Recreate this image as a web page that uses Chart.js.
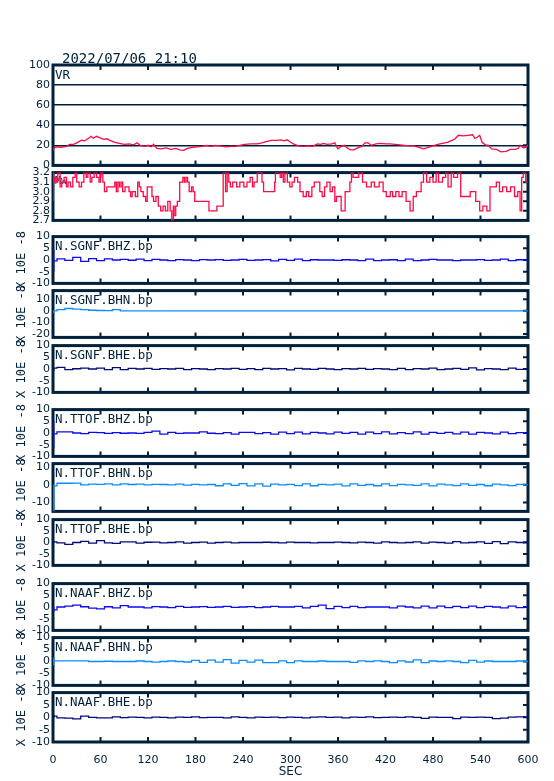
<!DOCTYPE html>
<html>
<head>
<meta charset="utf-8">
<script src="https://cdn.jsdelivr.net/npm/chart.js@4.4.0/dist/chart.umd.min.js"></script>
<style>
  html, body { margin: 0; padding: 0; background: #fff; }
  #wrap { position: relative; width: 554px; height: 781px; overflow: hidden; }
  #wrap canvas { position: absolute; left: 0; }
</style>
</head>
<body>
<div id="wrap"></div>
<script>
const dateTitle = '2022/07/06 21:10';
const secTicks = [0, 60, 120, 180, 240, 300, 360, 420, 480, 540, 600];

// variance reduction
const vrSec = [0, 2, 5, 10, 17, 21, 26, 30, 36, 40, 45, 48, 51, 55, 58, 64, 68, 72, 78, 84, 90, 96, 102, 106, 110, 116, 120, 124, 127, 131,
  137, 143, 149, 155, 160, 165, 170, 176, 182, 188, 194, 199, 205, 211, 218, 224, 230, 236, 242, 250, 258, 264, 270, 276, 282, 288, 292, 296, 300, 305,
  310, 316, 322, 328, 334, 338, 342, 346, 352, 356, 358, 360, 364, 368, 372, 376, 380, 385, 390, 394, 398, 402, 408, 414, 420, 426, 432, 438, 444, 450,
  456, 462, 468, 474, 480, 486, 492, 498, 504, 508, 512, 518, 524, 530, 533, 536, 539, 542, 546, 550, 554, 560, 566, 572, 578, 584, 588, 590, 594, 597, 600];
const vrVal = [15, 18, 18.5, 18, 19, 21, 21, 22.5, 25, 24.5, 27, 29, 27, 29, 28, 26, 26.5, 25, 23, 22, 21, 21.5, 20.5, 22.5, 20, 19, 20, 18.5, 21, 17,
  16.5, 17.5, 16, 17, 15.5, 15, 17, 18, 18.5, 19, 20, 19, 20, 19.5, 18.5, 19, 19, 20, 21, 21.5, 21.5, 22.5, 24, 25, 25, 25.5, 24.5, 25.5, 23, 21,
  19.5, 19, 19.5, 19, 21.5, 21, 22, 21, 21.5, 22.5, 19, 16.5, 19, 20, 17, 15.5, 15.5, 17.5, 19, 22.5, 22.5, 20, 21.5, 22, 21.5, 21.5, 21, 20.5, 20, 19.5,
  19.5, 18, 16.5, 18, 19.5, 21, 22, 23, 25, 26.5, 30, 29.5, 30, 30.5, 27, 28, 30, 23, 20.5, 20, 16.5, 16, 13.5, 14, 16, 16, 17, 20, 17.5, 18, 20];
const vrTicks = [0, 20, 40, 60, 80, 100];

// magnitude (step trace)
const mwSec = [0, 1, 2, 4, 6, 9, 11, 14, 17, 19, 22, 25, 28, 30, 33, 36, 39, 42, 44, 47, 49, 52, 55, 58, 60, 63, 65, 68, 78, 80,
  82, 84, 86, 88, 91, 96, 98, 100, 104, 107, 109, 111, 114, 117, 119, 125, 127, 130, 133, 136, 139, 142, 145, 148, 150, 152, 153, 155, 157, 160,
  164, 166, 168, 170, 172, 175, 177, 179, 197, 207, 215, 218, 220, 222, 224, 227, 232, 236, 241, 245, 249, 252, 254, 258, 264, 266, 280, 281, 287, 289,
  291, 293, 296, 299, 302, 305, 309, 312, 316, 320, 323, 327, 330, 337, 340, 343, 346, 350, 353, 356, 358, 364, 369, 375, 377, 379, 386, 391, 396, 402,
  406, 412, 417, 421, 426, 429, 433, 437, 441, 446, 451, 455, 459, 465, 468, 472, 476, 480, 484, 487, 492, 496, 499, 503, 506, 511, 515, 527, 534, 539,
  543, 548, 552, 560, 564, 568, 573, 578, 583, 587, 590, 592, 594, 597, 599, 600];
const mwVal = [2.9, 3.2, 3.1, 3.15, 3.1, 3.2, 3.05, 3.1, 3.15, 3.05, 3.1, 3.05, 3.15, 3.2, 3.1, 3.05, 3.1, 3.2, 3.15, 3.2, 3.1, 3.15, 3.2, 3.15, 3.1, 3.2, 3.1, 3.0, 3.05, 3.1,
  3.0, 3.1, 3.05, 3.1, 3.0, 3.05, 3.0, 2.95, 3.0, 2.95, 3.1, 3.05, 3.0, 2.95, 2.9, 3.05, 2.95, 2.9, 2.95, 2.85, 2.8, 2.85, 2.8, 2.9, 2.8, 2.7, 2.85, 2.75, 2.85, 2.9,
  3.1, 3.15, 3.1, 3.15, 3.1, 3.0, 3.05, 3.0, 2.9, 2.8, 2.85, 3.2, 3.0, 3.2, 3.1, 3.05, 3.1, 3.05, 3.1, 3.05, 3.1, 3.15, 3.05, 3.1, 3.2, 3.1, 3.0, 3.1, 3.2, 3.15,
  3.2, 3.1, 3.2, 3.1, 3.05, 3.1, 3.15, 3.1, 3.0, 2.95, 3.0, 2.95, 3.05, 3.1, 3.0, 2.95, 3.05, 3.1, 3.0, 3.05, 2.9, 2.95, 2.8, 3.0, 3.1, 3.2, 3.15, 3.2, 3.1, 3.05,
  3.1, 3.05, 3.1, 3.0, 2.95, 3.0, 2.95, 3.0, 2.95, 3.0, 2.9, 2.8, 2.95, 3.0, 3.1, 3.2, 3.1, 3.15, 3.1, 3.2, 3.1, 3.15, 3.2, 3.05, 3.2, 3.15, 3.2, 2.95, 3.0, 2.9,
  2.8, 2.85, 2.8, 3.05, 3.1, 3.0, 3.05, 3.0, 3.05, 2.95, 3.0, 2.8, 3.15, 3.2, 3.1, 3.1];
const mwTicks = [2.7, 2.8, 2.9, 3.0, 3.1, 3.2];

// band-passed waveforms, 10 s samples (x 10E-8)
const seisSec = [0, 10, 20, 30, 40, 50, 60, 70, 80, 90, 100, 110, 120, 130, 140, 150, 160, 170, 180, 190,
  200, 210, 220, 230, 240, 250, 260, 270, 280, 290, 300, 310, 320, 330, 340, 350, 360, 370, 380, 390,
  400, 410, 420, 430, 440, 450, 460, 470, 480, 490, 500, 510, 520, 530, 540, 550, 560, 570, 580, 590, 600];
const sgnfZ = [-0.4, 0.5, -0.2, 1.1, -0.6, 0.6, -0.3, 0.5, 0.0, 0.3, -0.1, 0.4, -0.3, 0.3, 0.0, -0.3, 0.2, 0.0, -0.3, 0.2,
  0.0, 0.2, -0.2, 0.0, 0.3, -0.2, 0.0, 0.2, -0.4, 0.3, -0.2, 0.4, -0.3, 0.1, 0.0, 0.0, -0.2, 0.1, 0.0, -0.3,
  0.4, -0.3, 0.0, 0.1, -0.3, 0.4, -0.3, 0.0, 0.3, 0.0, 0.0, -0.3, 0.0, 0.0, 0.2, -0.2, 0.0, 0.4, -0.3, 0.1, 0.0];
const sgnfN = [0.0, 1.0, 2.0, 1.5, 1.0, 0.5, 0.3, 0.2, 1.0, 0.0, 0, 0, 0, 0, 0, 0, 0, 0, 0, 0,
  0, 0, 0, 0, 0, 0, 0, 0, 0, 0, 0, 0, 0, 0, 0, 0, 0, 0, 0, 0,
  0, 0, 0, 0, 0, 0, 0, 0, 0, 0, 0, 0, 0, 0, 0, 0, 0, 0, 0, 0, 0];
const sgnfE = [0.4, 0.7, -0.3, 0.1, 0.4, 0.0, 0.4, -0.3, 0.6, -0.3, 0.3, 0.0, 0.3, -0.2, 0.2, 0.0, 0.3, -0.3, 0.2, 0.0,
  -0.3, 0.2, 0.0, 0.3, -0.2, 0.2, -0.3, 0.3, 0.0, 0.2, -0.4, 0.3, 0.0, -0.2, 0.3, 0.0, -0.3, 0.2, 0.0, 0.3,
  -0.2, 0.2, 0.0, -0.3, 0.3, -0.3, 0.2, 0.0, 0.4, -0.3, 0.0, 0.3, -0.2, 0.5, -0.4, 0.2, 0.0, -0.3, 0.4, -0.2, 0.1];
const ttofZ = [-0.4, 0.5, 0.5, 0.0, -0.3, 0.3, 0.2, -0.2, 0.2, -0.1, 0.0, -0.2, 0.3, 0.8, -0.5, 0.3, -0.2, 0.0, 0.0, 0.5,
  -0.1, -0.3, 0.2, -0.5, 0.3, 0.3, -0.3, 0.2, -0.5, 0.4, -0.3, 0.4, -0.4, 0.3, 0.0, -0.4, 0.4, -0.2, 0.3, -0.5,
  0.4, -0.3, 0.5, -0.4, 0.2, -0.3, 0.5, -0.5, 0.3, -0.2, 0.3, -0.4, 0.4, -0.5, 0.3, 0.0, -0.4, 0.4, -0.3, 0.2, 0.0];
const ttofN = [-0.6, 0.9, 0.9, 1.0, 0.0, 0.4, 0.3, 0.6, 0.0, 0.5, 0.2, 0.4, 0.0, 0.3, 0.2, 0.0, 0.4, -0.2, 0.3, 0.0,
  0.2, -0.5, 0.6, -0.3, 0.7, -0.6, 0.5, -0.7, 0.4, 0.0, 0.3, -0.4, 0.5, -0.5, 0.3, 0.0, 0.4, -0.6, 0.5, -0.3,
  0.2, -0.5, 0.6, -0.4, 0.3, 0.0, -0.3, 0.5, -0.6, 0.4, 0.0, -0.4, 0.5, -0.3, 0.2, -0.5, 0.4, 0.0, -0.4, 0.3, 0.0];
const ttofE = [0.3, -0.2, -0.8, 0.0, 0.5, -0.3, 0.8, -0.2, -0.4, 0.3, 0.3, -0.3, 0.1, 0.2, -0.2, 0.0, 0.3, -0.3, 0.0, 0.2,
  -0.3, 0.0, 0.2, -0.2, 0.0, 0.0, 0.0, 0.1, 0.0, -0.2, 0.2, 0.0, 0.0, -0.2, 0.0, 0.0, 0.2, 0.0, -0.2, 0.2,
  0.0, -0.3, 0.3, 0.0, -0.2, 0.0, 0.3, -0.3, 0.2, 0.0, -0.3, 0.4, -0.2, 0.0, 0.3, -0.4, 0.4, -0.5, 0.3, 0.0, 0.2];
const naafZ = [-1.2, 0.0, 0.4, 0.8, 0.1, -0.5, -0.8, 0.1, -0.4, 0.6, 0.0, 0.0, -0.4, 0.2, 0.0, -0.3, 0.3, -0.2, 0.0, 0.2,
  -0.2, 0.0, 0.3, -0.2, 0.0, 0.2, -0.3, 0.0, 0.3, 0.0, 0.0, 0.3, -0.4, 0.3, 0.8, -0.7, 0.3, -0.3, 0.3, -0.3,
  0.0, 0.0, 0.0, -0.4, 0.4, 0.0, -0.4, 0.4, -0.4, 0.4, -0.3, 0.3, -0.3, 0.4, -0.3, 0.3, 0.0, -0.4, 0.4, -0.3, 0.1];
const naafN = [0.3, 0.3, 0.3, 0.3, 0.3, 0.0, 0.0, 0.1, 0.0, 0.0, 0.0, 0.2, 0.0, -0.3, 0.0, 0.2, 0.0, -0.2, 0.5, -0.4,
  0.6, -0.3, 0.8, -0.7, 0.5, -0.3, 0.6, -0.5, -0.5, 0.3, -0.5, 0.3, 0.0, 0.0, 0.2, 0.0, 0.0, 0.0, -0.4, 0.3,
  0.0, 0.3, 0.0, -0.5, 0.3, -0.2, 0.7, -0.5, 0.2, 0.0, 0.3, 0.0, -0.5, 0.5, -0.3, 0.2, 0.0, 0.0, 0.0, 0.2, 0.0];
const naafE = [0.5, -0.2, -0.3, -0.6, 0.5, 0.0, -0.2, -0.2, 0.2, -0.1, 0.1, 0.0, -0.2, 0.1, 0.0, -0.2, 0.1, 0.0, 0.2, -0.1,
  0.0, 0.0, -0.2, 0.2, 0.0, -0.2, 0.1, 0.0, 0.1, -0.1, 0.1, 0.0, -0.2, 0.1, 0.2, 0.0, 0.1, -0.2, 0.1, 0.0,
  0.2, -0.1, 0.0, 0.1, 0.0, 0.2, 0.0, -0.4, 0.1, 0.0, 0.0, -0.5, 0.1, 0.0, 0.1, 0.0, -0.5, -0.3, 0.1, 0.2, 0.0];
const tenTicks = [-10, -5, 0, 5, 10];
const sgnfNTicks = [-20, -10, 0, 10];
const ttofNTicks = [-10, 0, 10];

const INK = '#00203c';
const RED = '#ff0a46';
const BHZ = '#0a0af0';
const BHN = '#0a8cff';
const BHE = '#000a78';

Chart.defaults.font.family = '"DejaVu Sans", sans-serif';
Chart.defaults.color = INK;

const panels = [
  {top: 65, bottom: 167, padTop: 26, label: 'VR', sec: vrSec, val: vrVal, min: 0, max: 100, ticks: vrTicks, color: RED, grid: true, heading: dateTitle},
  {top: 171, bottom: 222, label: 'Mw', labelSize: 10, sec: mwSec, val: mwVal, min: 2.7, max: 3.2, ticks: mwTicks, color: RED, stepped: 'after', dec: 1},
  {top: 235, bottom: 285, label: 'N.SGNF.BHZ.bp', sec: seisSec, val: sgnfZ, onset: [4.5, -5], min: -10, max: 10, ticks: tenTicks, color: BHZ},
  {top: 289, bottom: 339, label: 'N.SGNF.BHN.bp', sec: seisSec, val: sgnfN, onset: [0, -2], min: -23, max: 17.5, ticks: sgnfNTicks, color: BHN},
  {top: 344, bottom: 394, label: 'N.SGNF.BHE.bp', sec: seisSec, val: sgnfE, onset: [0.5, -0.8], min: -10, max: 10, ticks: tenTicks, color: BHE},
  {top: 408, bottom: 458, label: 'N.TTOF.BHZ.bp', sec: seisSec, val: ttofZ, onset: [5, -6.5], min: -10, max: 10, ticks: tenTicks, color: BHZ},
  {top: 462, bottom: 513, label: 'N.TTOF.BHN.bp', sec: seisSec, val: ttofN, onset: [0, -15], min: -15, max: 12, ticks: ttofNTicks, color: BHN},
  {top: 518, bottom: 567, label: 'N.TTOF.BHE.bp', sec: seisSec, val: ttofE, onset: [0.5, -0.3], min: -10, max: 10, ticks: tenTicks, color: BHE},
  {top: 582, bottom: 632, label: 'N.NAAF.BHZ.bp', sec: seisSec, val: naafZ, onset: [0, -2], min: -10, max: 10, ticks: tenTicks, color: BHZ},
  {top: 636, bottom: 687, label: 'N.NAAF.BHN.bp', sec: seisSec, val: naafN, onset: [1.6, -1.7], min: -10, max: 10, ticks: tenTicks, color: BHN},
  {top: 691, bottom: 742, label: 'N.NAAF.BHE.bp', sec: seisSec, val: naafE, onset: [1, -0.3], min: -10, max: 10, ticks: tenTicks, color: BHE}
];

// frame, inward ticks and panel labels
const framePlugin = {
  id: 'frame',
  beforeDatasetsDraw(chart, args, opts) {
    const {ctx, chartArea: a, scales: {x, y}} = chart;
    ctx.save();
    ctx.strokeStyle = INK;
    ctx.lineWidth = 2;
    ctx.beginPath();
    secTicks.slice(1, -1).forEach(s => {
      const px = x.getPixelForValue(s);
      ctx.moveTo(px, a.top); ctx.lineTo(px, a.top + 5);
      ctx.moveTo(px, a.bottom); ctx.lineTo(px, a.bottom - 5);
    });
    opts.ticks.forEach(v => {
      if (v > y.min && v < y.max) {
        const py = y.getPixelForValue(v);
        ctx.moveTo(a.right, py); ctx.lineTo(a.right - 5, py);
      }
    });
    ctx.stroke();
    ctx.lineWidth = 3;
    ctx.strokeRect(a.left, a.top, a.width, a.height);

    ctx.fillStyle = INK;
    ctx.textBaseline = 'top';
    ctx.font = (opts.labelSize || 12.5) + 'px "DejaVu Sans Mono", monospace';
    ctx.fillText(opts.label, a.left + 2, a.top + 4);
    if (opts.heading) {
      ctx.textBaseline = 'alphabetic';
      ctx.font = '14px "DejaVu Sans Mono", monospace';
      ctx.fillText(opts.heading, a.left + 9, a.top - 2);
    }
    ctx.restore();
  }
};
Chart.register(framePlugin);

const wrap = document.getElementById('wrap');
panels.forEach((p, i) => {
  const last = i === panels.length - 1;
  const padTop = p.padTop || 8;
  const top = p.top - padTop;
  const h = last ? 781 - top : p.bottom - p.top + padTop + 8;
  const cv = document.createElement('canvas');
  cv.width = 554;
  cv.height = h;
  cv.style.top = top + 'px';
  wrap.appendChild(cv);

  const datasets = [{
    data: p.sec.map((s, k) => ({x: s, y: p.val[k]})),
    borderColor: p.color,
    borderWidth: 1.3,
    pointRadius: 0,
    stepped: p.stepped || (p.onset ? 'middle' : false),
    tension: 0
  }];
  if (p.onset) {
    datasets.push({
      data: [{x: 1, y: p.onset[0]}, {x: 1, y: p.onset[1]}],
      borderColor: p.color,
      borderWidth: 1.3,
      pointRadius: 0
    });
  }

  new Chart(cv, {
    type: 'line',
    data: {datasets: datasets},
    options: {
      responsive: false,
      animation: false,
      devicePixelRatio: 1,
      layout: {padding: {left: 0, right: 26, top: padTop, bottom: last ? 0 : 8}},
      plugins: {
        legend: {display: false},
        tooltip: {enabled: false},
        frame: {label: p.label, labelSize: p.labelSize, ticks: p.ticks, heading: p.heading}
      },
      scales: {
        x: {
          type: 'linear',
          min: 0,
          max: 600,
          display: last,
          afterBuildTicks: s => { s.ticks = secTicks.map(v => ({value: v})); },
          afterFit: s => { if (last) s.height = 39; },
          grid: {display: false},
          border: {display: false},
          ticks: {color: INK, font: {size: 11}, padding: 4, maxRotation: 0, autoSkip: false},
          title: {display: true, text: 'SEC', color: INK, font: {size: 12}, padding: {top: 0, bottom: 2}}
        },
        y: {
          min: p.min,
          max: p.max,
          afterBuildTicks: s => { s.ticks = p.ticks.map(v => ({value: v})); },
          afterFit: s => { s.width = 53; },
          grid: {display: !!p.grid, drawTicks: false, color: INK, lineWidth: 1.5},
          border: {display: false},
          ticks: {
            color: INK,
            font: {size: 11},
            padding: 3,
            autoSkip: false,
            callback: v => p.dec ? v.toFixed(p.dec) : String(v)
          },
          title: {
            display: !!p.onset,
            text: 'X 10E -8',
            color: INK,
            font: {family: '"DejaVu Sans Mono", monospace', size: 12},
            padding: {top: 15, bottom: 0}
          }
        }
      }
    }
  });
});
</script>
</body>
</html>
